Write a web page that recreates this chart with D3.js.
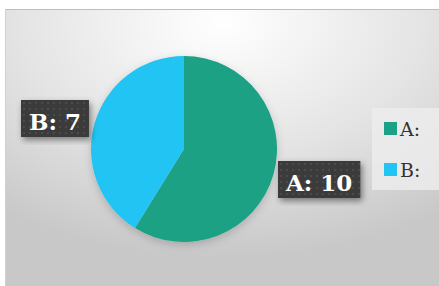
<!DOCTYPE html>
<html><head><meta charset="utf-8">
<script src="https://cdn.jsdelivr.net/npm/d3@7"></script>
<style>html,body{margin:0;padding:0;background:#fff;overflow:hidden}</style>
</head><body>
<svg id="c" width="439" height="286"></svg>
<script>
const categories = ["A", "B"];
const values = [10, 7];
const colors = ["#1ba185", "#22c4f4"];

const svg = d3.select("#c");
const defs = svg.append("defs");

const bg = defs.append("radialGradient").attr("id", "bg")
  .attr("cx", "50%").attr("cy", "5%").attr("r", "85%");
bg.append("stop").attr("offset", "0%").attr("stop-color", "#ffffff");
bg.append("stop").attr("offset", "55%").attr("stop-color", "#e4e4e4");
bg.append("stop").attr("offset", "100%").attr("stop-color", "#c8c8c8");

const sh = defs.append("filter").attr("id", "sh").attr("x", "-20%").attr("y", "-20%").attr("width", "140%").attr("height", "140%");
sh.append("feDropShadow").attr("dx", 2).attr("dy", 3).attr("stdDeviation", 3).attr("flood-color", "#000").attr("flood-opacity", 0.45);

const psh = defs.append("filter").attr("id", "psh").attr("x", "-20%").attr("y", "-20%").attr("width", "140%").attr("height", "140%");
psh.append("feDropShadow").attr("dx", 0).attr("dy", 3).attr("stdDeviation", 4).attr("flood-color", "#000").attr("flood-opacity", 0.18);

const pat = defs.append("pattern").attr("id", "dots").attr("width", 6).attr("height", 6).attr("patternUnits", "userSpaceOnUse");
pat.append("rect").attr("width", 6).attr("height", 6).attr("fill", "#3a3a3a");
pat.append("circle").attr("cx", 3).attr("cy", 3).attr("r", 1).attr("fill", "#505050");

// background panel
svg.append("rect").attr("x", 5).attr("y", 9).attr("width", 434).attr("height", 277)
  .attr("fill", "url(#bg)");
svg.append("line").attr("x1", 5).attr("x2", 439).attr("y1", 9.5).attr("y2", 9.5).attr("stroke", "#bdbdbd");
svg.append("line").attr("x1", 5.5).attr("x2", 5.5).attr("y1", 9).attr("y2", 286).attr("stroke", "#d0d0d0");

const cx = 184, cy = 149, r = 93;
const pie = d3.pie().sort(null).value(d => d)(values);
const arc = d3.arc().innerRadius(0).outerRadius(r);
const g = svg.append("g").attr("transform", `translate(${cx},${cy})`).attr("filter", "url(#psh)");
g.selectAll("path").data(pie).join("path")
  .attr("d", arc).attr("fill", (d, i) => colors[i]);

// labels
const labelPos = [
  {x: 278, y: 161},
  {x: 21, y: 100}
];
pie.forEach((d, i) => {
  const lg = svg.append("g").attr("transform", `translate(${labelPos[i].x},${labelPos[i].y})`);
  const t = lg.append("text").attr("x", 8).attr("y", 30)
    .attr("font-family", "DejaVu Serif").attr("font-weight", "bold").attr("font-size", 23)
    .attr("fill", "#fff").text(categories[i] + ": " + values[i]);
  const w = t.node().getComputedTextLength();
  lg.insert("rect", "text").attr("width", w + 16).attr("height", 37)
    .attr("fill", "url(#dots)").attr("filter", "url(#sh)");
});

// legend
const leg = svg.append("g").attr("transform", "translate(372,108)");
leg.append("rect").attr("width", 67).attr("height", 82).attr("fill", "#ececec").attr("opacity", 0.85);
categories.forEach((c, i) => {
  const row = leg.append("g").attr("transform", `translate(12,${14 + i * 41})`);
  row.append("rect").attr("width", 13).attr("height", 13).attr("fill", colors[i]);
  row.append("text").attr("x", 16).attr("y", 14).attr("font-family", "DejaVu Serif")
    .attr("font-size", 19).attr("fill", "#333").text(c + ":");
});
</script>
</body></html>
